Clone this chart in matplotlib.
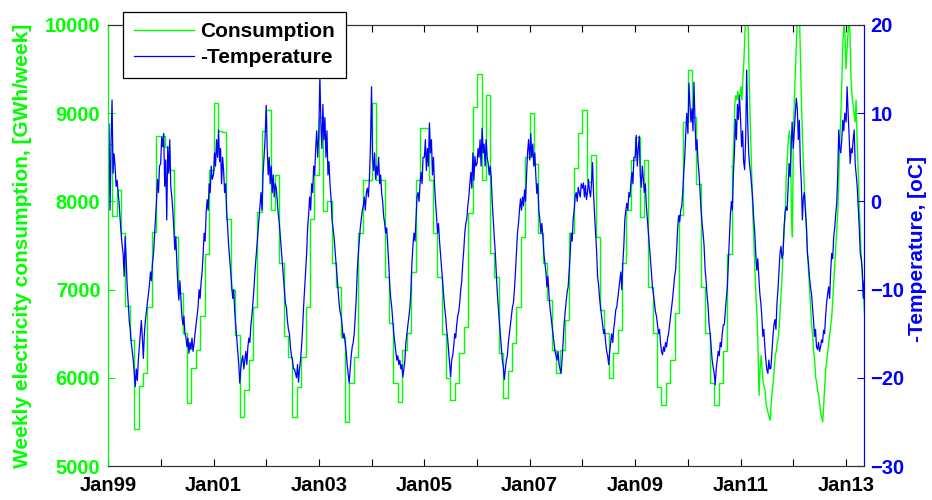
import matplotlib
matplotlib.use('Agg')
import matplotlib.pyplot as plt
from datetime import datetime, timedelta

plt.rcParams['font.family'] = ['Liberation Sans', 'DejaVu Sans']

# ---------------- data ----------------
# Monthly weekly-consumption levels [GWh/week] (Jan..Dec), step series
cons_1999 = [8650, 7830, 8130, 7640, 6810, 6430, 5420, 5910, 6050, 6800, 7650, 8740]
cons_2000 = [8740, 8620, 8360, 7600, 6960, 6510, 5710, 6110, 6320, 6700, 7400, 8360]
cons_2001 = [9110, 8800, 8790, 7800, 7000, 6480, 5560, 5860, 6200, 6800, 7880, 8800]
cons_2002 = [9040, 7900, 8300, 7300, 6470, 6240, 5560, 5900, 6240, 6800, 7800, 8300]
cons_2003 = [8960, 7890, 8000, 7300, 7030, 6460, 5500, 5940, 6240, 7640, 8240, 8240]
cons_2004 = [9110, 8240, 8240, 7140, 6620, 5940, 5730, 6320, 6510, 7200, 8240, 8830]
cons_2005 = [8830, 8240, 7640, 7140, 6500, 6000, 5750, 5940, 6280, 6580, 7870, 9070]
cons_2006 = [9445, 8240, 9207, 7410, 7140, 6280, 5770, 6080, 6400, 6800, 7600, 8500]
cons_2007 = [9000, 8420, 7640, 7300, 6880, 6320, 6050, 6320, 6650, 7640, 8380, 8770]
cons_2008 = [9037, 8220, 8530, 7600, 6770, 6510, 6000, 6280, 6540, 7300, 7900, 8470]
cons_2009 = [8730, 7820, 8470, 7030, 6510, 5900, 5690, 5940, 6200, 6730, 7850, 8900]
cons_2010 = [9490, 8960, 8200, 7030, 6510, 5940, 5690, 5940, 6300, 7400]  # Jan..Oct

# Weekly consumption from 1 Nov 2010 onwards
cons_weekly_start = datetime(2010, 11, 1)
cons_weekly = [8395, 8395, 8700, 9100, 9200, 9150, 9250, 9150, 9200, 9300,
               9150, 9400, 9600, 9900, 10200, 10300, 10100, 9500, 9000, 8600,
               8200, 7800, 7500, 7200, 6900, 6700, 6300, 5800, 6100, 6250,
               6100, 5950, 5900, 5850, 5700, 5650, 5600, 5550, 5520, 5700,
               5850, 5950, 6100, 6250, 6300, 6400, 6450, 6600, 6800, 7000,
               7200, 7500, 7700, 7900, 8300, 8500, 8700, 8800, 8700, 7900,
               7600, 8800, 9200, 9500, 9800, 10100, 10300, 10100, 9600, 9100,
               8700, 8400, 8100, 7900, 7700, 7400, 7200, 7000, 6800, 6600,
               6500, 6300, 6200, 6000, 5950, 5850, 5800, 5700, 5600, 5550,
               5500, 5700, 5900, 6100, 6200, 6300, 6400, 6500, 6600, 6700,
               6900, 7100, 7300, 7500, 7700, 7900, 8300, 8700, 9000, 9400,
               9800, 10000, 9900, 9500, 9700, 9900, 10100, 9900, 9400, 9200,
               9100, 9000, 8900, 9150, 8700, 8400, 8000, 7700, 7400, 7200,
               7000, 6800, 6600]

# Weekly minus temperature [oC], one list per year (week 1 starts 1 Jan)
negtemp_1999 = [3.5, 8.8, -1.0, 6.6, 11.5, 3.2, 5.4, 4.0, 1.7, 2.4, 1.0, -0.2, -2.0, -3.6, -5.0, -5.9, -8.5, -4.0, -6.7, -9.7, -11.5, -13.5, -14.5, -16.0, -17.0, -18.0, -19.5, -21.0, -19.0, -20.3, -18.0, -16.5, -15.0, -13.5, -15.5, -17.8, -15.0, -13.5, -12.5, -11.5, -10.5, -9.5, -8.0, -9.0, -7.0, -6.0, -4.0, -2.0, 0.0, 2.5, 1.0, 4.0]
negtemp_2000 = [4.3, 7.3, 6.2, 7.7, 1.7, 4.7, -2.1, 6.2, 3.2, 7.0, 1.7, 0.5, -1.0, -3.0, -5.5, -4.0, -7.0, -9.5, -11.2, -9.0, -11.0, -13.0, -14.0, -13.0, -15.0, -15.4, -16.5, -15.5, -17.2, -16.0, -16.8, -15.5, -17.0, -16.2, -15.0, -14.0, -13.0, -12.0, -10.0, -11.0, -9.2, -8.0, -6.0, -3.6, -4.5, -1.3, 0.2, -1.0, 2.0, 1.0, 4.0, 2.5]
negtemp_2001 = [3.0, 5.5, 4.0, 7.0, 5.0, 8.1, 4.5, 6.0, 2.0, 5.0, 3.5, 1.0, 2.0, -1.0, -3.0, -5.0, -6.5, -8.0, -9.5, -11.0, -10.0, -12.5, -14.0, -15.5, -17.0, -18.5, -20.6, -19.0, -18.0, -17.5, -19.0, -18.0, -17.0, -18.5, -16.5, -15.5, -16.0, -14.0, -13.0, -11.5, -10.0, -8.0, -6.5, -5.0, -3.5, -2.0, -0.5, 1.0, -1.0, 3.0, 5.0, 7.0]
negtemp_2002 = [10.9, 6.0, 3.0, 5.0, 2.0, 4.0, 1.0, 3.0, 0.5, 2.0, 1.5, 0.0, -1.5, -2.5, -4.0, -5.5, -7.0, -8.5, -10.0, -11.5, -12.0, -13.5, -14.5, -15.0, -16.5, -17.5, -18.0, -19.0, -19.0, -19.5, -20.0, -18.5, -20.5, -19.0, -18.0, -16.5, -14.5, -12.0, -10.0, -8.0, -6.0, -3.0, -1.5, 0.5, -1.0, 2.0, 1.0, 4.0, 3.0, 6.0, 8.0, 5.0]
negtemp_2003 = [8.0, 14.2, 9.0, 6.0, 11.0, 7.0, 9.5, 5.0, 8.0, 3.0, 4.5, 2.0, 0.5, -2.0, -3.0, -4.0, -5.5, -7.0, -8.5, -10.0, -11.5, -12.5, -13.0, -14.0, -15.5, -15.0, -16.0, -17.0, -18.5, -19.5, -20.6, -19.0, -17.5, -16.5, -16.0, -15.0, -13.0, -11.0, -8.0, -6.0, -4.5, -3.0, -2.0, -1.0, -0.5, 0.5, -1.0, 1.0, 1.5, 0.5, 2.5, 6.0]
negtemp_2004 = [13.0, 5.0, 3.5, 5.5, 2.5, 4.0, 3.0, 5.0, 2.0, 3.0, 1.0, 0.0, -1.7, -2.5, -3.6, -3.0, -5.0, -7.0, -9.5, -11.0, -12.0, -13.5, -15.0, -16.0, -17.0, -18.0, -17.5, -18.5, -18.0, -19.0, -18.5, -19.9, -19.0, -18.0, -16.0, -15.0, -14.0, -13.0, -12.0, -10.0, -7.0, -5.0, -3.6, -4.5, -2.0, 0.5, 1.0, 0.0, 2.0, 3.3, 2.0, 5.0]
negtemp_2005 = [5.0, 7.0, 3.5, 6.0, 4.0, 8.9, 5.5, 7.0, 3.0, 5.0, 2.0, 0.0, -1.6, -3.6, -2.5, -4.5, -6.0, -7.5, -9.0, -10.5, -12.0, -13.0, -14.5, -15.5, -17.0, -18.5, -19.9, -18.0, -17.5, -16.5, -15.0, -15.5, -14.0, -13.0, -12.5, -11.5, -10.0, -9.0, -7.0, -5.5, -3.6, -2.5, -2.0, -0.5, 0.5, 2.0, 3.3, 1.5, 5.5, 2.4, 5.1, 4.0]
negtemp_2006 = [4.3, 6.0, 5.0, 7.0, 4.0, 8.3, 5.5, 6.5, 4.0, 7.0, 5.0, 4.3, 3.0, 4.0, 2.8, 0.0, -2.0, -4.0, -5.7, -8.0, -10.3, -12.0, -13.5, -15.0, -16.5, -18.0, -18.8, -20.2, -19.0, -18.0, -17.5, -16.0, -15.0, -14.0, -13.0, -12.0, -11.5, -10.0, -8.0, -5.7, -3.6, -2.5, -1.0, 0.3, -1.0, 0.5, -0.5, 1.3, 0.0, 3.0, 5.5, 7.0]
negtemp_2007 = [4.7, 7.7, 5.0, 6.5, 4.0, 5.5, 3.0, 0.9, 2.0, -1.0, -2.0, -3.6, -2.5, -4.0, -5.9, -7.0, -8.0, -9.7, -8.5, -10.5, -12.0, -13.0, -14.0, -15.0, -16.0, -17.0, -17.5, -18.0, -17.0, -18.5, -19.0, -19.5, -18.0, -16.0, -14.0, -12.6, -11.5, -10.3, -9.7, -8.0, -6.0, -3.6, -4.5, -2.0, -1.0, 0.6, 1.0, 0.0, 1.6, 1.0, 0.5, 2.0]
negtemp_2008 = [1.5, 2.1, 0.5, 1.8, 0.2, 1.0, 2.5, 1.2, 0.5, 2.0, 4.4, 1.0, -1.5, -3.6, -5.5, -8.5, -9.5, -11.0, -12.0, -13.0, -14.0, -15.0, -14.5, -16.0, -17.0, -17.5, -18.5, -17.0, -16.0, -15.0, -16.0, -14.5, -13.5, -12.3, -12.0, -11.0, -10.0, -9.0, -8.0, -10.0, -7.0, -5.0, -2.0, -1.0, -0.2, -1.0, 1.0, 0.5, 2.1, 3.3, 2.0, 5.0]
negtemp_2009 = [5.0, 7.5, 4.0, 6.0, 7.4, 3.0, 1.6, 4.0, 2.5, 1.0, 2.0, -0.5, -2.0, -3.6, -5.0, -6.5, -8.0, -9.7, -10.5, -11.5, -12.5, -13.0, -14.0, -15.0, -14.5, -16.0, -17.0, -17.4, -16.5, -17.0, -16.0, -16.5, -15.5, -15.0, -14.0, -13.0, -12.0, -11.0, -9.7, -8.5, -7.7, -5.5, -3.0, -1.6, -2.3, -1.0, -0.6, 1.0, 3.3, 5.0, 7.7, 10.0]
negtemp_2010 = [7.7, 13.4, 11.0, 9.0, 10.5, 8.0, 13.5, 9.0, 5.8, 7.0, 4.5, 3.2, 1.0, -1.0, -2.5, -3.6, -5.0, -7.7, -9.0, -10.7, -12.0, -14.0, -15.0, -16.5, -18.0, -18.8, -19.5, -20.8, -19.0, -18.0, -17.0, -17.5, -16.0, -16.5, -15.0, -14.0, -14.0, -12.5, -11.0, -9.7, -7.0, -4.5, -1.6, 0.0, -1.0, 3.0, 5.5, 9.3, 7.0, 11.0, 9.3, 12.0]
negtemp_2011 = [9.2, 6.2, 8.0, 4.5, 3.6, 7.0, 14.9, 9.0, 5.5, 4.0, 3.0, 1.7, 0.2, -2.0, -3.5, -5.9, -7.8, -6.5, -8.5, -10.4, -11.5, -13.0, -15.3, -14.5, -16.5, -18.0, -19.1, -19.5, -18.0, -19.0, -18.9, -17.0, -15.3, -14.0, -13.4, -14.5, -11.5, -10.0, -8.0, -5.9, -5.1, -6.5, -5.9, -3.0, -1.3, -0.6, -1.0, 1.5, 4.3, 2.8, 6.0, 9.0]
negtemp_2012 = [6.0, 8.0, 10.0, 11.7, 10.5, 7.0, 9.2, 4.3, 2.0, -2.1, 0.5, 1.0, -1.0, -3.0, -5.9, -7.0, -8.5, -9.7, -10.4, -12.0, -13.4, -15.3, -14.5, -16.5, -16.8, -16.0, -17.0, -16.5, -15.7, -16.0, -14.6, -15.0, -13.0, -11.5, -10.5, -9.7, -11.0, -8.0, -5.9, -6.5, -4.0, -3.0, -1.5, -0.2, 3.0, 8.1, 6.0, 5.5, 7.0, 9.2, 8.0, 10.0]
negtemp_2013 = [9.0, 13.0, 10.0, 7.4, 4.3, 6.0, 5.5, 7.0, 8.1, 4.3, 3.0, 1.7, -0.6, -3.0, -5.9, -6.5, -7.8, -11.0, -9.0]

tick_years = list(range(1999, 2014))
tick_labels = ['Jan%02d' % (y % 100) if y % 2 == 1 else '' for y in tick_years]

# ---------------- build series ----------------
cons_years = [(1999, cons_1999), (2000, cons_2000), (2001, cons_2001), (2002, cons_2002),
              (2003, cons_2003), (2004, cons_2004), (2005, cons_2005), (2006, cons_2006),
              (2007, cons_2007), (2008, cons_2008), (2009, cons_2009), (2010, cons_2010)]
m_dates, m_vals = [], []
for yr, vals in cons_years:
    for i, v in enumerate(vals):
        m_dates.append(datetime(yr, i + 1, 1))
        m_vals.append(v)
w_dates = [cons_weekly_start + timedelta(days=7 * i) for i in range(len(cons_weekly))]
# join step part to weekly part
m_dates.append(w_dates[0])
m_vals.append(cons_weekly[0])

temp_years = [(1999, negtemp_1999), (2000, negtemp_2000), (2001, negtemp_2001), (2002, negtemp_2002),
              (2003, negtemp_2003), (2004, negtemp_2004), (2005, negtemp_2005), (2006, negtemp_2006),
              (2007, negtemp_2007), (2008, negtemp_2008), (2009, negtemp_2009), (2010, negtemp_2010),
              (2011, negtemp_2011), (2012, negtemp_2012), (2013, negtemp_2013)]
t_dates, t_vals = [], []
for yr, vals in temp_years:
    for i, v in enumerate(vals):
        t_dates.append(datetime(yr, 1, 1) + timedelta(days=7 * i))
        t_vals.append(v)

# ---------------- plot ----------------
GREEN = '#00ff00'
BLUE = '#0000ff'
W, H = 932, 500
fig = plt.figure(figsize=(W / 100, H / 100), dpi=100)
ax = fig.add_axes([108 / W, 34 / H, 756 / W, 441 / H])

l1, = ax.plot(m_dates, m_vals, color=GREEN, lw=1.0, drawstyle='steps-post', label='Consumption')
ax.plot(w_dates, cons_weekly, color=GREEN, lw=1.0)
ax.set_xlim(datetime(1999, 1, 1), datetime(2013, 5, 5))
ax.set_ylim(5000, 10000)
ax.set_yticks([5000, 6000, 7000, 8000, 9000, 10000])

ax2 = ax.twinx()
l2, = ax2.plot(t_dates, t_vals, color=BLUE, lw=0.9, label='-Temperature')
ax2.set_ylim(-30, 20)
ax2.set_yticks([-30, -20, -10, 0, 10, 20])

ax.set_xticks([datetime(y, 1, 1) for y in tick_years])
ax.set_xticklabels(tick_labels, fontsize=14.5, fontweight='bold')
ax.tick_params(axis='x', direction='in', length=5, top=True, pad=7, colors='black')
ax.tick_params(axis='y', direction='in', length=5, colors=GREEN, labelsize=14.5, pad=5.5)
for t in ax.get_yticklabels():
    t.set_fontweight('bold')
ax2.tick_params(axis='y', direction='in', length=5, colors=BLUE, labelsize=14.5, pad=4.5)
for t in ax2.get_yticklabels():
    t.set_fontweight('bold')

for a in (ax, ax2):
    a.spines['left'].set_color(GREEN)
    a.spines['right'].set_color(BLUE)
    a.spines['top'].set_color('#333333')
    a.spines['bottom'].set_color('#333333')
    for s in a.spines.values():
        s.set_linewidth(0.8)

fig.text(22.5 / W, 1 - 245.5 / H, 'Weekly electricity consumption, [GWh/week]', rotation=90,
         ha='center', va='center', color=GREEN, fontsize=15, fontweight='bold')
fig.text(917.5 / W, 1 - 249 / H, '-Temperature, [oC]', rotation=90,
         ha='center', va='center', color=BLUE, fontsize=15, fontweight='bold')

leg = fig.legend([l1, l2], ['Consumption', '-Temperature'], loc='upper left',
                 bbox_to_anchor=(123.3 / W, 1 - 11.7 / H), bbox_transform=fig.transFigure,
                 borderaxespad=0, fancybox=False, framealpha=1, edgecolor='black',
                 prop={'size': 15, 'weight': 'bold'}, handlelength=2.9, handletextpad=0.3,
                 labelspacing=0.35, borderpad=0.5)
leg.get_frame().set_linewidth(0.9)

fig.savefig('out.png', dpi=100)
